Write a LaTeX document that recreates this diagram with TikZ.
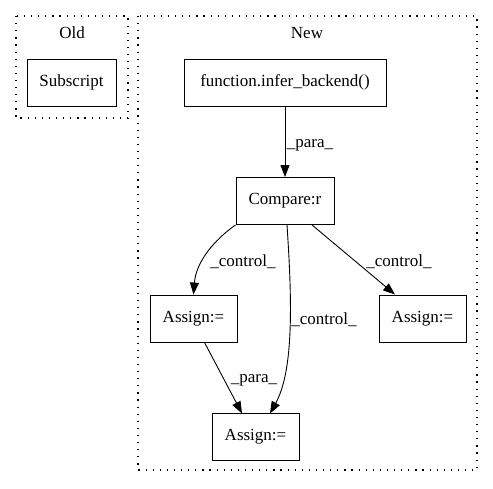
\documentclass[tikz,border=0pt]{standalone}
\usepackage{fontspec}
\setmainfont{Liberation Serif}
\usetikzlibrary{arrows.meta}

\begin{document}
\begin{tikzpicture}[x=1pt,y=-1pt,
  box/.style={draw, line width=0.9pt, minimum height=47pt, inner sep=0pt, font=\fontsize{17}{20}\selectfont},
  edge/.style={-{Triangle[length=12pt,width=9pt]}, line width=0.9pt},
  lbl/.style={inner sep=1pt, font=\fontsize{17}{20}\selectfont},
  cluster/.style={line width=1.1pt, dash pattern=on 1.2pt off 5.9pt}]
\useasboundingbox (0,0) rectangle (493,488);

%Clusters
\draw [cluster] (16,16) rectangle (128,118);
\draw [cluster] (138,16) rectangle (477,470);
\node [lbl] (oldlbl) at (72,33) {Old};
\node [lbl] (newlbl) at (307,33) {New};

% Nodes
\node [box, minimum width=89pt] (subscript) at (71.5,82.5) {Subscript};
\node [box, minimum width=202pt] (infer) at (285,82.5) {function.infer\_backend()};
\node [box, minimum width=98pt] (compare) at (285,201) {Compare:r};
\node [box, minimum width=87pt] (assignl) at (193.5,318.5) {Assign:=};
\node [box, minimum width=87pt] (assignr) at (422.5,318.5) {Assign:=};
\node [box, minimum width=87pt] (assignb) at (255.5,437) {Assign:=};

% Edges
\draw [edge] (infer.south) -- (compare.north);
\draw [edge] (compare.south west) .. controls (214,240) and (196,262) .. (assignl.north);
\draw [edge] (compare.south) ++(2,0) coordinate (cmid) .. controls (292,300) and (294,370) .. (270,413.5);
\draw [edge] (compare.south) ++(27,0) coordinate (cright) -- (395,294.5);
\draw [edge] (assignl.south) ++(11,0) coordinate (aleft) -- (242,413.5);

% Edge labels
\node [lbl] (l1) at (310,145) {\_para\_};
\node [lbl] (l2) at (243,262) {\_control\_};
\node [lbl] (l3) at (399,262) {\_control\_};
\node [lbl] (l4) at (324,320) {\_control\_};
\node [lbl] (l5) at (254,380) {\_para\_};

\end{tikzpicture}
\end{document}
